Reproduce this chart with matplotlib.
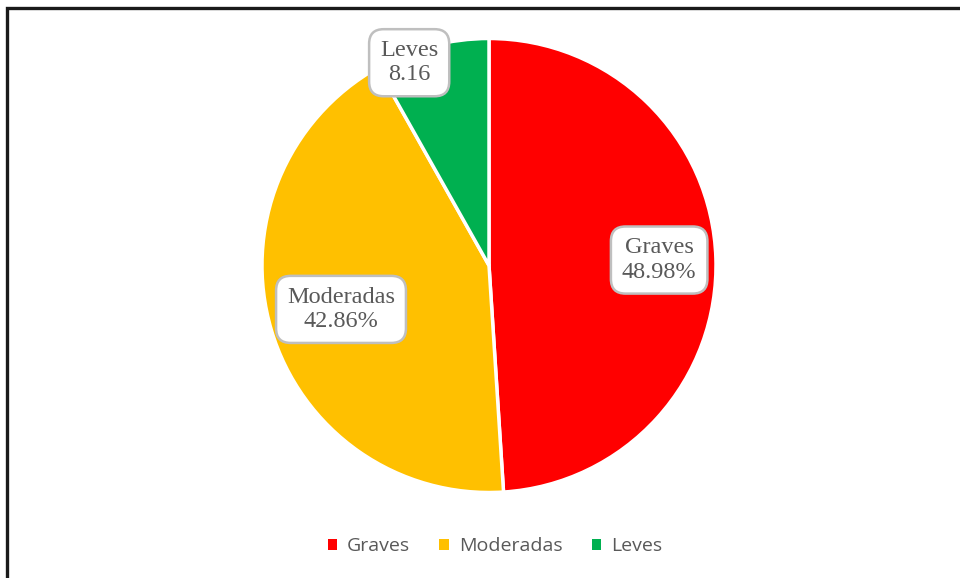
import numpy as np
import matplotlib.pyplot as plt
from matplotlib.patches import Rectangle, Patch

categorias = ["Graves", "Moderadas", "Leves"]
valores = [48.98, 42.86, 8.16]
etiquetas = ["Graves\n48.98%", "Moderadas\n42.86%", "Leves\n8.16"]
colores = ["#FF0000", "#FFC000", "#00B050"]

W, H = 960, 578
fig = plt.figure(figsize=(W / 100, H / 100), dpi=100)

# outer frame (runs past the right and bottom edges)
fig.patches.append(Rectangle((7 / W, -0.1), 1.2, 1 - 8 / H + 0.1,
                             transform=fig.transFigure, fill=False,
                             edgecolor="#1a1a1a", linewidth=2.4))

cx, cy, r = 489, 265.5, 227
ax = fig.add_axes([(cx - r) / W, (H - cy - r) / H, 2 * r / W, 2 * r / H])
wedges, _ = ax.pie(valores, colors=colores, startangle=90, counterclock=False,
                   radius=1, wedgeprops=dict(edgecolor="white", linewidth=2.5))
ax.set_xlim(-1, 1)
ax.set_ylim(-1, 1)
ax.set_aspect("equal")
ax.axis("off")

# label placement: radial distance and angle shift per slice
dist = [0.75, 0.68, 0.96]
shift = [0, 0, 6.8]
for w, txt, d, s in zip(wedges, etiquetas, dist, shift):
    ang = np.deg2rad((w.theta1 + w.theta2) / 2 + s)
    ax.text(d * np.cos(ang), d * np.sin(ang), txt, ha="center", va="center",
            fontsize=17.5, family="Liberation Serif", color="#595959",
            linespacing=1.2,
            bbox=dict(boxstyle="round,pad=0.45,rounding_size=0.6",
                      facecolor="white", edgecolor="#BFBFBF", linewidth=1.8))

handles = [Patch(facecolor=c, edgecolor="none") for c in colores]
fig.legend(handles, categorias, loc="center", bbox_to_anchor=(495 / W, 1 - 546 / H),
           ncol=3, frameon=False, handlelength=0.5, handleheight=0.5,
           handletextpad=0.5, columnspacing=1.5,
           prop=dict(family="Open Sans", size=14), labelcolor="#595959")

fig.savefig("out.png", dpi=100, facecolor="white")
